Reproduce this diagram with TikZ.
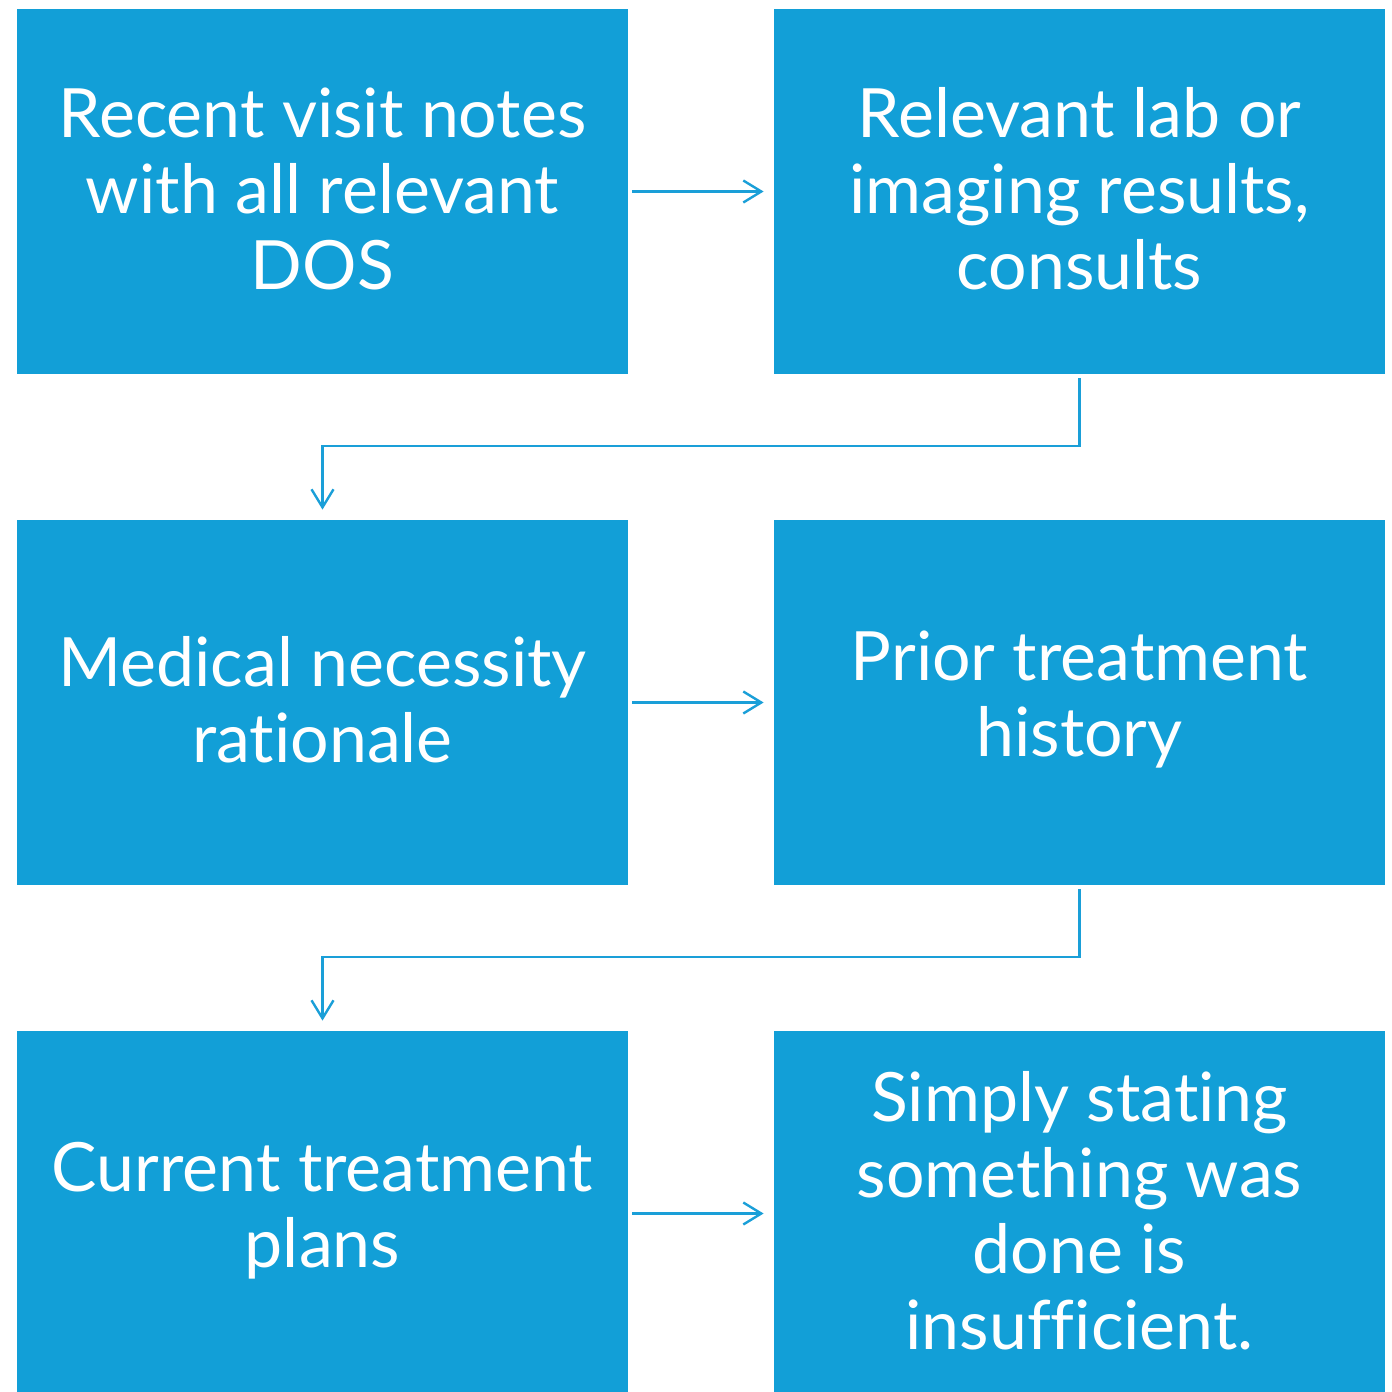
\documentclass[tikz,border=0pt]{standalone}
\usepackage{fontspec}
\setmainfont{Lato}[Ligatures=NoCommon]
\usetikzlibrary{arrows.meta}
\definecolor{boxblue}{HTML}{129FD7}
\definecolor{lineblue}{HTML}{1A9FD8}
\begin{document}
\begin{tikzpicture}[x=0.5pt,y=-0.5pt,
  stepbox/.style={fill=boxblue,draw=none,minimum width=305.5pt,minimum height=182.5pt,inner sep=0pt,
    text=white,align=center,font=\fontsize{34}{38}\selectfont},
  lbl/.style={text=white,align=center,font=\fontsize{34}{38}\selectfont,inner sep=0pt},
  conn/.style={draw=lineblue,line width=1.2pt,-{Straight Barb[length=9pt,width=11pt,line width=1.2pt]}}]
\useasboundingbox[fill=white] (0,0) rectangle (1392,1392);
\begin{scope}
\clip (0,0) rectangle (1392,1392);
\node[stepbox] (a) at (322.5,191.5) {};
\node[stepbox] (b) at (1079.5,191.5) {};
\node[stepbox] (c) at (322.5,702.5) {};
\node[stepbox] (d) at (1079.5,702.5) {};
\node[stepbox] (e) at (322.5,1213.5) {};
\node[stepbox] (f) at (1079.5,1213.5) {};
\end{scope}
\node[lbl] (ta) at ([yshift=1.5pt]a.center) {Recent visit notes\\with all relevant\\DOS};
\node[lbl] (tb) at ([yshift=1.5pt]b.center) {Relevant lab or\\imaging results,\\consults};
\node[lbl] (tc) at ([yshift=1.5pt]c.center) {Medical necessity\\rationale};
\node[lbl] (td) at ([yshift=1.5pt]d.center) {Prior treatment\\history};
\node[lbl] (te) at ([yshift=1.5pt]e.center) {Current treatment\\plans};
\node[lbl] (tf) at ([yshift=1.5pt]f.center) {Simply stating\\something was\\done is\\insufficient.};
\draw[conn] ([xshift=2pt]a.east) -- ([xshift=-5pt]b.west);
\draw[conn] ([xshift=2pt]c.east) -- ([xshift=-5pt]d.west);
\draw[conn] ([xshift=2pt]e.east) -- ([xshift=-5pt]f.west);
\draw[conn] ([yshift=-2pt]b.south) |- (322.5,446) -- ([yshift=5pt]c.north);
\draw[conn] ([yshift=-2pt]d.south) |- (322.5,957) -- ([yshift=5pt]e.north);
\end{tikzpicture}
\end{document}
